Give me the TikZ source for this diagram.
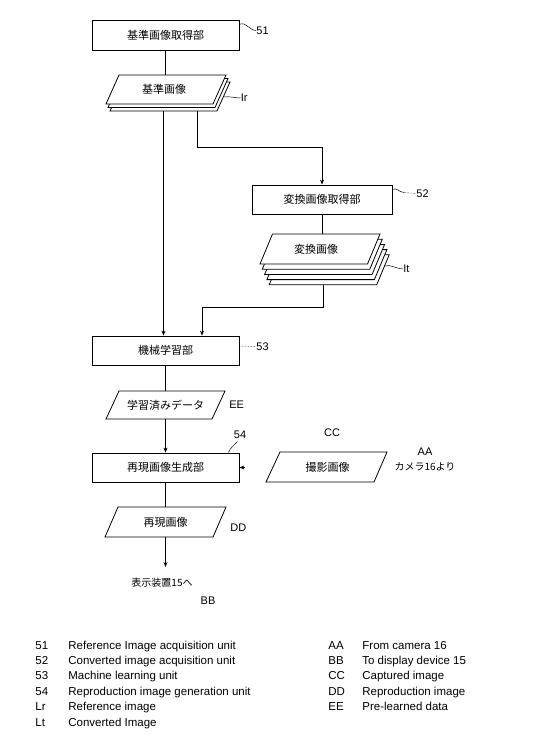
\documentclass[tikz,border=0pt]{standalone}
\usepackage{fontspec}
\setmainfont{Liberation Sans}
\newfontfamily\jpfont{Noto Sans CJK JP}
\usetikzlibrary{arrows.meta,calc}
\begin{document}
\begin{tikzpicture}[x=1bp,y=-1bp,line width=0.8bp,
  jp/.style={font=\jpfont\fontsize{11bp}{13bp}\selectfont,inner sep=0pt},
  jpsmall/.style={font=\jpfont\fontsize{10bp}{12bp}\selectfont,inner sep=0pt},
  lab/.style={font=\fontsize{11bp}{13bp}\selectfont,inner sep=0pt},
  leg/.style={font=\fontsize{11.5bp}{13bp}\selectfont,inner sep=0pt,anchor=base west},
  unitbox/.style={draw,jp,minimum height=29bp},
  arr/.style={-{Stealth[length=5bp,width=4bp]}},
  lead/.style={line width=0.5bp},
  sheet/.style={draw,fill=white},
]
\useasboundingbox (0,0) rectangle (533,745);

% unit boxes
\node[unitbox,minimum width=147bp,minimum height=30bp] (b51) at (165.5,35.5) {基準画像取得部};
\node[unitbox,minimum width=140bp] (b52) at (322,199.5) {変換画像取得部};
\node[unitbox,minimum width=147bp] (b53) at (165.5,350.5) {機械学習部};
\node[unitbox,minimum width=147bp] (b54) at (165.5,467.5) {再現画像生成部};

% Ir stack
\foreach \k in {2,1,0} \draw[sheet,shift={(166+2*\k,89.5+3.5*\k)}] (-47,-14.5) -- (60,-14.5) -- (47,14.5) -- (-60,14.5) -- cycle;
\node[jp,minimum height=29bp] (ir) at (164,89.5) {基準画像};

% It stack
\foreach \k in {4,3,2,1,0} \draw[sheet,shift={(320+2.3*\k,249+5.2*\k)}] (-47.5,-15) -- (60,-15) -- (47.5,15) -- (-60,15) -- cycle;
\node[jp,minimum height=30bp] (it) at (316,249) {変換画像};

% data parallelograms
\draw[shift={(165.5,405)}] (-46.5,-14) -- (59.5,-14) -- (46.5,14) -- (-59.5,14) -- cycle;
\node[jp,minimum height=28bp] (ee) at (165.5,405) {学習済みデータ};
\draw[shift={(165.5,522)}] (-47.5,-15) -- (60.5,-15) -- (47.5,15) -- (-60.5,15) -- cycle;
\node[jp,minimum height=30bp] (dd) at (165.5,522) {再現画像};
\draw[shift={(326.5,467)}] (-46.5,-15) -- (60.5,-15) -- (47.5,15) -- (-60.5,15) -- cycle;
\node[jp,minimum height=30bp] (cc) at (327.5,467) {撮影画像};

% connectors
\draw (b51.south) -- (b51.south |- ir.north);
\coordinate (irb1) at (163.5,111);
\draw[arr] (irb1) -- (irb1 |- b53.north);
\coordinate (irb2) at (197,111);
\coordinate (k1) at (197,147);
\draw[arr] (irb2) -- (k1) -| (b52.north);
\draw (b52.south) -- (b52.south |- it.north);
\coordinate (itb) at (323,284.8);
\coordinate (k2) at (202,307);
\draw[arr] (itb) |- (k2) -- (k2 |- b53.north);
\draw (b53.south) -- (b53.south |- ee.north);
\draw[arr] (ee.south) -- (b54.north);
\draw (b54.south) -- (dd.north);
\coordinate (dispend) at (165.5,567);
\draw[arr] (dd.south) -- (dispend);
\coordinate (camend) at (245,467.5);
\draw[arr] (camend) -- (b54.east);

% free texts
\node[jpsmall] (disp) at (162,583) {表示装置15へ};
\node[lab] (bb) at (208,601) {BB};
\node[lab,anchor=west] (lee) at (229,405) {EE};
\node[lab,anchor=west] (ldd) at (230,528) {DD};
\node[lab] (lcc) at (332,433) {CC};
\node[lab] (laa) at (425,452) {AA};
\node[jpsmall] (cam) at (425,467) {カメラ16より};

% reference labels and leaders
\node[lab,anchor=west] (n51) at (256,30.5) {51};
\coordinate (l51) at ($(b51.north east)+(0,4)$);
\draw[lead] (l51) .. controls +(5,-3) and +(-6,0) .. (n51.west);

\node[lab,anchor=west] (n52) at (416,193.5) {52};
\coordinate (l52) at ($(b52.north east)+(0,5)$);
\coordinate (l52m) at (404,192.5);
\draw[lead] (l52) .. controls +(4,-3) and +(-5,0) .. (l52m);
\draw[lead,densely dotted] (l52m) -- (n52.west);

\node[lab,anchor=west] (n53) at (256,346.5) {53};
\coordinate (l53) at ($(b53.east)+(0,-4.5)$);
\draw[lead,densely dotted] (l53) -- (n53.west);

\node[lab] (n54) at (240,435) {54};
\coordinate (l54) at ($(b54.north east)+(-11,0)$);
\coordinate (l54e) at (237.5,441.5);
\draw[lead] (l54) .. controls +(2,-5) and +(-3,3) .. (l54e);

\node[lab,anchor=west] (nir) at (240.5,98) {Ir};
\coordinate (lir) at (224,97);
\draw[lead] (lir) .. controls +(5,-1) and +(-6,0) .. (nir.west);

\node[lab,anchor=west] (nit) at (403,269) {It};
\coordinate (lit) at (385,266);
\draw[lead] (lit) .. controls +(5,-2) and +(-6,0) .. (nit.west);

% legend
\foreach \a/\b [count=\i] in {51/Reference Image acquisition unit, 52/Converted image acquisition unit, 53/Machine learning unit, 54/Reproduction image generation unit, Lr/Reference image, Lt/Converted Image} {
  \node[leg] (lka\i) at (35,633.6+15.4*\i) {\a};
  \node[leg] (lda\i) at (68,633.6+15.4*\i) {\b};
}
\foreach \a/\b [count=\i] in {AA/From camera 16, BB/To display device 15, CC/Captured image, DD/Reproduction image, EE/Pre-learned data} {
  \node[leg] (lkb\i) at (328,633.6+15.4*\i) {\a};
  \node[leg] (ldb\i) at (362,633.6+15.4*\i) {\b};
}
\end{tikzpicture}
\end{document}
